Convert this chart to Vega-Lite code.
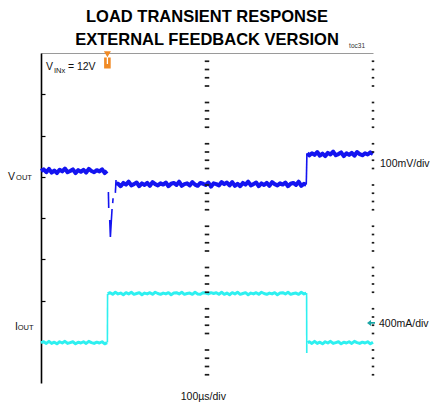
{
"$schema":"https://vega.github.io/schema/vega-lite/v6.json",
"width":332,"height":330,
"autosize":{"type":"none"},
"padding":{"left":41,"top":53,"right":59,"bottom":25},
"background":"white",
"config":{"view":{"stroke":null},"font":"Liberation Sans","axis":{"labels":false,"grid":false,"ticks":false,"titleOpacity":0}},
"datasets":{
"vout":[{"p":"a","t":0,"d":5.14},{"p":"a","t":8,"d":5.18},{"p":"a","t":16,"d":5.11},{"p":"a","t":24,"d":5.19},{"p":"a","t":32,"d":5.10},{"p":"a","t":40,"d":5.15},{"p":"a","t":48,"d":5.09},{"p":"a","t":56,"d":5.17},{"p":"a","t":64,"d":5.13},{"p":"a","t":72,"d":5.20},{"p":"a","t":80,"d":5.11},{"p":"a","t":88,"d":5.14},{"p":"a","t":96,"d":5.18},{"p":"a","t":104,"d":5.09},{"p":"a","t":112,"d":5.16},{"p":"a","t":120,"d":5.12},{"p":"a","t":128,"d":5.17},{"p":"a","t":136,"d":5.10},{"p":"a","t":144,"d":5.19},{"p":"a","t":152,"d":5.14},{"p":"a","t":160,"d":5.11},{"p":"a","t":168,"d":5.16},{"p":"a","t":176,"d":5.13},{"p":"a","t":184,"d":5.18},{"p":"a","t":192,"d":5.09},{"p":"a","t":199,"d":5.14},
{"p":"b","t":226,"d":4.84},{"p":"b","t":232,"d":4.83},{"p":"b","t":240,"d":4.77},{"p":"b","t":248,"d":4.85},{"p":"b","t":256,"d":4.81},{"p":"b","t":264,"d":4.88},{"p":"b","t":272,"d":4.79},{"p":"b","t":280,"d":4.82},{"p":"b","t":288,"d":4.86},{"p":"b","t":296,"d":4.77},{"p":"b","t":304,"d":4.84},{"p":"b","t":312,"d":4.80},{"p":"b","t":320,"d":4.85},{"p":"b","t":328,"d":4.78},{"p":"b","t":336,"d":4.87},{"p":"b","t":344,"d":4.82},{"p":"b","t":352,"d":4.79},{"p":"b","t":360,"d":4.84},{"p":"b","t":368,"d":4.81},{"p":"b","t":376,"d":4.86},{"p":"b","t":384,"d":4.77},{"p":"b","t":392,"d":4.83},{"p":"b","t":400,"d":4.85},{"p":"b","t":408,"d":4.80},{"p":"b","t":416,"d":4.88},{"p":"b","t":424,"d":4.78},{"p":"b","t":432,"d":4.82},{"p":"b","t":440,"d":4.84},{"p":"b","t":448,"d":4.79},{"p":"b","t":456,"d":4.87},{"p":"b","t":464,"d":4.81},{"p":"b","t":472,"d":4.78},{"p":"b","t":480,"d":4.85},{"p":"b","t":488,"d":4.83},{"p":"b","t":496,"d":4.80},{"p":"b","t":504,"d":4.86},{"p":"b","t":512,"d":4.76},{"p":"b","t":520,"d":4.84},{"p":"b","t":528,"d":4.82},{"p":"b","t":536,"d":4.79},{"p":"b","t":544,"d":4.87},{"p":"b","t":552,"d":4.82},{"p":"b","t":560,"d":4.86},{"p":"b","t":568,"d":4.79},{"p":"b","t":576,"d":4.87},{"p":"b","t":584,"d":4.78},{"p":"b","t":592,"d":4.83},{"p":"b","t":600,"d":4.77},{"p":"b","t":608,"d":4.85},{"p":"b","t":616,"d":4.81},{"p":"b","t":624,"d":4.88},{"p":"b","t":632,"d":4.79},{"p":"b","t":640,"d":4.82},{"p":"b","t":648,"d":4.86},{"p":"b","t":656,"d":4.77},{"p":"b","t":664,"d":4.84},{"p":"b","t":672,"d":4.80},{"p":"b","t":680,"d":4.85},{"p":"b","t":688,"d":4.78},{"p":"b","t":696,"d":4.87},{"p":"b","t":704,"d":4.82},{"p":"b","t":712,"d":4.79},{"p":"b","t":720,"d":4.84},{"p":"b","t":728,"d":4.81},{"p":"b","t":736,"d":4.86},{"p":"b","t":744,"d":4.77},{"p":"b","t":752,"d":4.83},{"p":"b","t":760,"d":4.85},{"p":"b","t":768,"d":4.80},{"p":"b","t":776,"d":4.88},{"p":"b","t":784,"d":4.78},{"p":"b","t":792,"d":4.83},{"p":"b","t":799,"d":4.81},
{"p":"c","t":802,"d":5.57},{"p":"c","t":808,"d":5.52},{"p":"c","t":816,"d":5.57},{"p":"c","t":824,"d":5.53},{"p":"c","t":832,"d":5.60},{"p":"c","t":840,"d":5.51},{"p":"c","t":848,"d":5.56},{"p":"c","t":856,"d":5.50},{"p":"c","t":864,"d":5.58},{"p":"c","t":872,"d":5.54},{"p":"c","t":880,"d":5.61},{"p":"c","t":888,"d":5.52},{"p":"c","t":896,"d":5.55},{"p":"c","t":904,"d":5.59},{"p":"c","t":912,"d":5.50},{"p":"c","t":920,"d":5.57},{"p":"c","t":928,"d":5.53},{"p":"c","t":936,"d":5.58},{"p":"c","t":944,"d":5.51},{"p":"c","t":952,"d":5.60},{"p":"c","t":960,"d":5.55},{"p":"c","t":968,"d":5.52},{"p":"c","t":976,"d":5.57},{"p":"c","t":984,"d":5.54},{"p":"c","t":992,"d":5.59},{"p":"c","t":1000,"d":5.55}],
"vstep":[{"p":"dip1","t":203,"d":4.63},{"p":"dip1","t":204,"d":4.24},{"p":"dip2","t":207,"d":3.95},{"p":"dip2","t":209,"d":3.54},{"p":"dip2","t":212,"d":3.95},{"p":"dip2","t":214,"d":4.22},{"p":"dip3","t":216,"d":4.36},{"p":"dip3","t":217,"d":4.48},{"p":"dip4","t":224,"d":4.61},{"p":"dip4","t":226,"d":4.92},{"p":"rel","t":799,"d":4.81},{"p":"rel","t":801,"d":5.57}],
"iout":[{"p":"a","t":0,"d":0.98},{"p":"a","t":8,"d":1.00},{"p":"a","t":16,"d":0.96},{"p":"a","t":24,"d":1.01},{"p":"a","t":32,"d":0.96},{"p":"a","t":40,"d":0.99},{"p":"a","t":48,"d":0.95},{"p":"a","t":56,"d":1.00},{"p":"a","t":64,"d":0.97},{"p":"a","t":72,"d":1.01},{"p":"a","t":80,"d":0.96},{"p":"a","t":88,"d":0.98},{"p":"a","t":96,"d":1.00},{"p":"a","t":104,"d":0.95},{"p":"a","t":112,"d":0.99},{"p":"a","t":120,"d":0.97},{"p":"a","t":128,"d":1.00},{"p":"a","t":136,"d":0.96},{"p":"a","t":144,"d":1.01},{"p":"a","t":152,"d":0.98},{"p":"a","t":160,"d":0.96},{"p":"a","t":168,"d":0.99},{"p":"a","t":176,"d":0.97},{"p":"a","t":184,"d":1.00},{"p":"a","t":192,"d":0.95},{"p":"a","t":199,"d":0.98},
{"p":"b","t":201,"d":2.16},{"p":"b","t":208,"d":2.19},{"p":"b","t":216,"d":2.15},{"p":"b","t":224,"d":2.20},{"p":"b","t":232,"d":2.16},{"p":"b","t":240,"d":2.18},{"p":"b","t":248,"d":2.14},{"p":"b","t":256,"d":2.19},{"p":"b","t":264,"d":2.16},{"p":"b","t":272,"d":2.20},{"p":"b","t":280,"d":2.15},{"p":"b","t":288,"d":2.17},{"p":"b","t":296,"d":2.19},{"p":"b","t":304,"d":2.14},{"p":"b","t":312,"d":2.18},{"p":"b","t":320,"d":2.16},{"p":"b","t":328,"d":2.19},{"p":"b","t":336,"d":2.15},{"p":"b","t":344,"d":2.20},{"p":"b","t":352,"d":2.17},{"p":"b","t":360,"d":2.15},{"p":"b","t":368,"d":2.18},{"p":"b","t":376,"d":2.16},{"p":"b","t":384,"d":2.19},{"p":"b","t":392,"d":2.14},{"p":"b","t":400,"d":2.18},{"p":"b","t":408,"d":2.19},{"p":"b","t":416,"d":2.16},{"p":"b","t":424,"d":2.20},{"p":"b","t":432,"d":2.15},{"p":"b","t":440,"d":2.17},{"p":"b","t":448,"d":2.18},{"p":"b","t":456,"d":2.15},{"p":"b","t":464,"d":2.20},{"p":"b","t":472,"d":2.16},{"p":"b","t":480,"d":2.15},{"p":"b","t":488,"d":2.19},{"p":"b","t":496,"d":2.18},{"p":"b","t":504,"d":2.16},{"p":"b","t":512,"d":2.19},{"p":"b","t":520,"d":2.17},{"p":"b","t":528,"d":2.19},{"p":"b","t":536,"d":2.15},{"p":"b","t":544,"d":2.20},{"p":"b","t":552,"d":2.15},{"p":"b","t":560,"d":2.18},{"p":"b","t":568,"d":2.14},{"p":"b","t":576,"d":2.19},{"p":"b","t":584,"d":2.16},{"p":"b","t":592,"d":2.20},{"p":"b","t":600,"d":2.15},{"p":"b","t":608,"d":2.17},{"p":"b","t":616,"d":2.19},{"p":"b","t":624,"d":2.14},{"p":"b","t":632,"d":2.18},{"p":"b","t":640,"d":2.16},{"p":"b","t":648,"d":2.19},{"p":"b","t":656,"d":2.15},{"p":"b","t":664,"d":2.20},{"p":"b","t":672,"d":2.17},{"p":"b","t":680,"d":2.15},{"p":"b","t":688,"d":2.18},{"p":"b","t":696,"d":2.16},{"p":"b","t":704,"d":2.19},{"p":"b","t":712,"d":2.14},{"p":"b","t":720,"d":2.18},{"p":"b","t":728,"d":2.19},{"p":"b","t":736,"d":2.16},{"p":"b","t":744,"d":2.20},{"p":"b","t":752,"d":2.15},{"p":"b","t":760,"d":2.17},{"p":"b","t":768,"d":2.18},{"p":"b","t":776,"d":2.15},{"p":"b","t":784,"d":2.20},{"p":"b","t":792,"d":2.16},{"p":"b","t":799,"d":2.18},
{"p":"c","t":803,"d":0.98},{"p":"c","t":808,"d":1.00},{"p":"c","t":816,"d":0.96},{"p":"c","t":824,"d":1.01},{"p":"c","t":832,"d":0.96},{"p":"c","t":840,"d":0.99},{"p":"c","t":848,"d":0.95},{"p":"c","t":856,"d":1.00},{"p":"c","t":864,"d":0.97},{"p":"c","t":872,"d":1.01},{"p":"c","t":880,"d":0.96},{"p":"c","t":888,"d":0.98},{"p":"c","t":896,"d":1.00},{"p":"c","t":904,"d":0.95},{"p":"c","t":912,"d":0.99},{"p":"c","t":920,"d":0.97},{"p":"c","t":928,"d":1.00},{"p":"c","t":936,"d":0.96},{"p":"c","t":944,"d":1.01},{"p":"c","t":952,"d":0.98},{"p":"c","t":960,"d":0.96},{"p":"c","t":968,"d":0.99},{"p":"c","t":976,"d":0.97},{"p":"c","t":984,"d":1.00},{"p":"c","t":992,"d":0.95},{"p":"c","t":1000,"d":0.99}],
"istep":[{"p":"up","t":200,"d":0.98},{"p":"up","t":200.5,"d":2.16},{"p":"dn","t":800,"d":2.18},{"p":"dn","t":800.5,"d":0.73}],
"dash":[{"d":0.2},{"d":0.4},{"d":0.6},{"d":0.8},{"d":1.2},{"d":1.4},{"d":1.6},{"d":1.8},{"d":2.2},{"d":2.4},{"d":2.6},{"d":2.8},{"d":3.2},{"d":3.4},{"d":3.6},{"d":3.8},{"d":4.2},{"d":4.4},{"d":4.6},{"d":4.8},{"d":5.2},{"d":5.4},{"d":5.6},{"d":5.8},{"d":6.2},{"d":6.4},{"d":6.6},{"d":6.8},{"d":7.2},{"d":7.4},{"d":7.6},{"d":7.8}]
},
"layer":[
{"data":{"name":"vout"},"mark":{"type":"line","color":"#1414f0","strokeWidth":4,"strokeJoin":"round"},
 "encoding":{
  "x":{"field":"t","type":"quantitative","scale":{"domain":[0,1000],"nice":false,"zero":false},"axis":{"orient":"top","domain":true,"domainColor":"#9a9a9a","domainWidth":1,"ticks":false,"labels":false,"grid":false,"title":null}},
  "y":{"field":"d","type":"quantitative","scale":{"domain":[0,8],"nice":false,"zero":false},"axis":{"orient":"left","domain":true,"domainColor":"#000","domainWidth":1.6,"values":[1,2,3,4,5,6,7],"ticks":true,"tickSize":-4,"tickColor":"#000","tickWidth":1.2,"labels":false,"grid":false,"title":null}},
  "detail":{"field":"p"}}},
{"data":{"name":"vstep"},"mark":{"type":"line","color":"#1414f0","strokeWidth":1.6},
 "encoding":{"x":{"field":"t","type":"quantitative"},"y":{"field":"d","type":"quantitative"},"detail":{"field":"p"}}},
{"data":{"name":"iout"},"mark":{"type":"line","color":"#2ef0f0","strokeWidth":3,"strokeJoin":"round"},
 "encoding":{"x":{"field":"t","type":"quantitative"},"y":{"field":"d","type":"quantitative"},"detail":{"field":"p"}}},
{"data":{"name":"istep"},"mark":{"type":"line","color":"#2ef0f0","strokeWidth":1.6},
 "encoding":{"x":{"field":"t","type":"quantitative"},"y":{"field":"d","type":"quantitative"},"detail":{"field":"p"}}},
{"data":{"name":"dash"},"mark":{"type":"tick","orient":"horizontal","size":4.5,"thickness":1.7,"color":"#1a1a1a","opacity":1},
 "encoding":{"x":{"datum":500,"type":"quantitative"},"y":{"field":"d","type":"quantitative"}}},
{"data":{"name":"dash"},"mark":{"type":"tick","orient":"horizontal","size":2.5,"thickness":1.7,"color":"#1a1a1a","opacity":1},
 "encoding":{"x":{"datum":1000,"type":"quantitative"},"y":{"field":"d","type":"quantitative"}}},
{"data":{"values":[{"t":500,"d":8.752,"txt":"LOAD TRANSIENT RESPONSE"},{"t":500,"d":8.194,"txt":"EXTERNAL FEEDBACK VERSION"}]},
 "mark":{"type":"text","font":"Liberation Sans","fontWeight":"bold","fontSize":16.5,"align":"center","baseline":"alphabetic","color":"#000"},
 "encoding":{"x":{"field":"t","type":"quantitative"},"y":{"field":"d","type":"quantitative"},"text":{"field":"txt"}}},
{"data":{"values":[{"t":928,"d":8.12,"txt":"toc31"}]},
 "mark":{"type":"text","fontSize":6.5,"align":"left","baseline":"alphabetic","color":"#333"},
 "encoding":{"x":{"field":"t","type":"quantitative"},"y":{"field":"d","type":"quantitative"},"text":{"field":"txt"}}},
{"data":{"values":[{"t":15,"d":7.59,"txt":"V"},{"t":81,"d":7.59,"txt":"= 12V"},{"t":-99.4,"d":4.93,"txt":"V"},{"t":-78.3,"d":1.285,"txt":"I"},{"t":1021,"d":5.236,"txt":"100mV/div"},{"t":1018,"d":1.358,"txt":"400mA/div"}]},
 "mark":{"type":"text","fontSize":10.5,"align":"left","baseline":"alphabetic","color":"#111"},
 "encoding":{"x":{"field":"t","type":"quantitative"},"y":{"field":"d","type":"quantitative"},"text":{"field":"txt"}}},
{"data":{"values":[{"t":489,"d":-0.412,"txt":"100µs/div"}]},
 "mark":{"type":"text","fontSize":10.5,"align":"center","baseline":"alphabetic","color":"#111"},
 "encoding":{"x":{"field":"t","type":"quantitative"},"y":{"field":"d","type":"quantitative"},"text":{"field":"txt"}}},
{"data":{"values":[{"t":39,"d":7.52,"txt":"INx"},{"t":-75,"d":4.91,"txt":"OUT"},{"t":-70,"d":1.273,"txt":"OUT"}]},
 "mark":{"type":"text","fontSize":7.5,"align":"left","baseline":"alphabetic","color":"#111"},
 "encoding":{"x":{"field":"t","type":"quantitative"},"y":{"field":"d","type":"quantitative"},"text":{"field":"txt"}}},
{"data":{"values":[{"t":200,"d":7.97,"m":"trigger"}]},
 "mark":{"type":"point","shape":"triangle-down","size":50,"filled":true,"color":"#f08a24","opacity":1},
 "encoding":{"x":{"field":"t","type":"quantitative"},"y":{"field":"d","type":"quantitative"}}},
{"data":{"values":[{"t":200,"d":7.76,"m":"trigger"}]},
 "mark":{"type":"point","shape":"M-0.6,-1L-0.12,-1L-0.12,0.2L0.12,0.2L0.12,-1L0.6,-1L0.6,1L-0.6,1Z","size":120,"filled":true,"color":"#f08a24","opacity":1},
 "encoding":{"x":{"field":"t","type":"quantitative"},"y":{"field":"d","type":"quantitative"}}},
{"data":{"values":[{"t":994,"d":1.455,"m":"ground"}]},
 "mark":{"type":"point","shape":"M-1,0L0,-0.75L0,-0.22L1,-0.22L1,0.22L0,0.22L0,0.75Z","size":64,"filled":true,"color":"#1aa5a5","opacity":1},
 "encoding":{"x":{"field":"t","type":"quantitative"},"y":{"field":"d","type":"quantitative"}}}
]
}
